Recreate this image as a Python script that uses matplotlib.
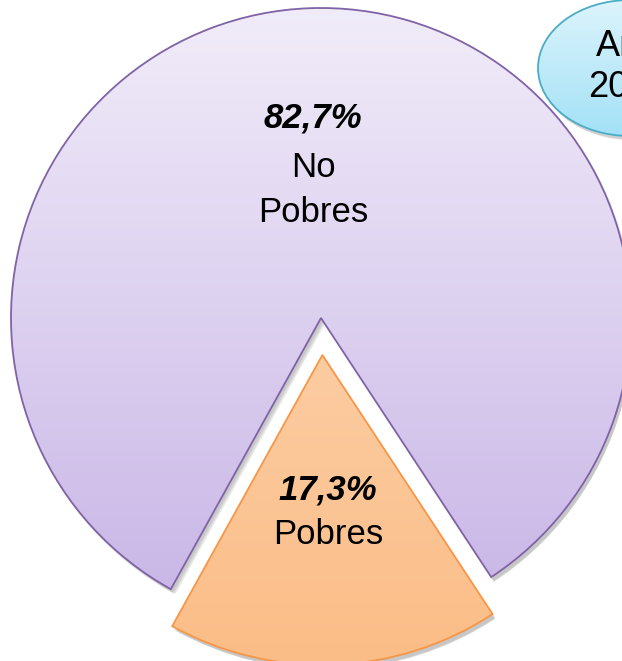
"""Pie chart: share of poor vs non-poor population."""

import numpy as np
import matplotlib.pyplot as plt
from matplotlib.patches import Ellipse
from matplotlib.colors import LinearSegmentedColormap

# data
categories = ['No\nPobres', 'Pobres']
shares = [82.7, 17.3]
pct_labels = ['82,7%', '17,3%']
badge_text = 'Año\n2013'

plt.rcParams['font.family'] = ['Liberation Sans', 'DejaVu Sans']

W, H = 622, 661
fig = plt.figure(figsize=(W / 100, H / 100), dpi=100)
ax = fig.add_axes([0, 0, 1, 1])

cx, cy, r = 321, H - 318, 310
explode = [0, 37]  # pie's explode is in data units here (pixels)

# shadows first (slightly offset, translucent grey)
for k, a in enumerate([0.05, 0.05, 0.06, 0.07]):
    ax.pie(shares, center=(cx + 2 + k * 0.6, cy - 3 - k * 1.2), radius=r + 1 - k,
           startangle=-56.7, explode=explode, counterclock=True,
           wedgeprops=dict(facecolor='black', edgecolor='none', alpha=a))

wedges, _ = ax.pie(shares, center=(cx, cy), radius=r, startangle=-56.7,
                   explode=explode, counterclock=True,
                   wedgeprops=dict(facecolor='none', linewidth=1.3))

fills = [('#f1ecf9', '#c7b4e6', '#7f63a6'), ('#fddbbc', '#fbbd87', '#f79646')]
for w, (c_top, c_bot, c_edge) in zip(wedges, fills):
    cmap = LinearSegmentedColormap.from_list('g', [c_bot, c_top])
    grad = np.linspace(0, 1, 256).reshape(-1, 1)
    im = ax.imshow(grad, cmap=cmap, origin='lower', aspect='auto',
                   extent=(0, W, w.center[1] - r, w.center[1] + r), zorder=1)
    im.set_clip_path(w)
    w.set_edgecolor(c_edge)
    w.set_zorder(2)

# badge in the top-right corner
bx, by, ba, bb = 630, H - 68, 184, 136
for k, a in enumerate([0.06, 0.06, 0.07]):
    ax.add_patch(Ellipse((bx + 2 + k * 0.6, by - 3 - k), ba + 1 - k, bb + 1 - k,
                         facecolor='black', edgecolor='none', alpha=a, zorder=3))
badge = Ellipse((bx, by), ba, bb, facecolor='none', edgecolor='#4bacc6',
                linewidth=1.3, zorder=5)
ax.add_patch(badge)
bcmap = LinearSegmentedColormap.from_list('b', ['#a3e1f6', '#dcf4fc'])
bim = ax.imshow(np.linspace(0, 1, 256).reshape(-1, 1), cmap=bcmap, origin='lower',
                aspect='auto', extent=(bx - ba / 2, bx + ba / 2, by - bb / 2, by + bb / 2),
                zorder=4)
bim.set_clip_path(badge)
ax.text(bx - 2, by + 1, badge_text, ha='center', va='center', fontsize=26,
        linespacing=1.25, zorder=6)

# labels
label_pos = [(313, 118, 167), (328, 490, 535)]
for (x, y_pct, y_cat), pct, cat in zip(label_pos, pct_labels, categories):
    ax.text(x, H - y_pct, pct, ha='center', va='center', fontsize=25,
            fontweight='bold', fontstyle='italic', zorder=6)
    ax.text(x, H - (y_cat + (23 if '\n' in cat else 0)), cat, ha='center', va='center',
            fontsize=25, linespacing=1.45, zorder=6)

ax.set_xlim(0, W)
ax.set_ylim(0, H)
ax.set_aspect('equal', adjustable='box')
ax.axis('off')

fig.savefig('out.png', dpi=100)
